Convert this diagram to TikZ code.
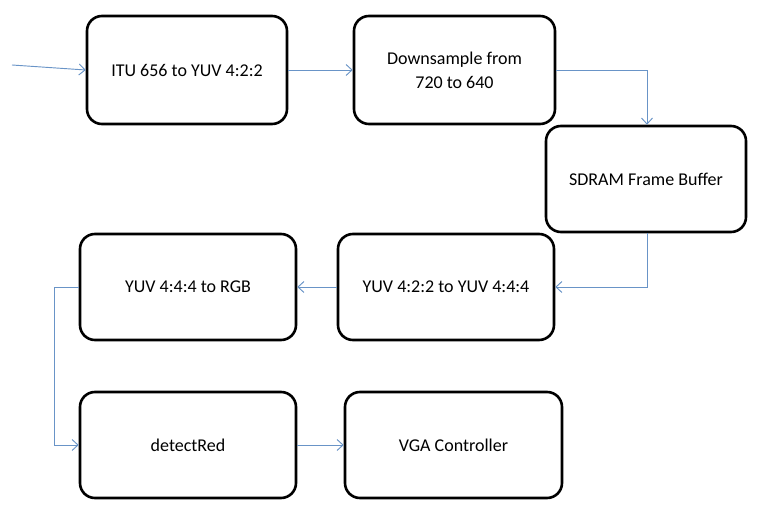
\documentclass[tikz,border=0pt]{standalone}
\usepackage{fontspec}
\setmainfont{Carlito}
\usetikzlibrary{arrows.meta}
\definecolor{conn}{RGB}{79,129,189}
\tikzset{
  blk/.style={draw=black, line width=1.95pt, rounded corners=11.25pt, align=center,
    font=\fontsize{13.5pt}{18pt}\selectfont, inner sep=0pt},
  conn/.style={draw=conn!85!white, line width=0.7pt,
    -{Straight Barb[length=4.5pt,width=8.25pt,line width=0.7pt]}},
}
\begin{document}
\begin{tikzpicture}[x=0.75pt,y=-0.75pt]
\useasboundingbox (0,0) rectangle (778,513);
\newcommand{\blkat}[6]{%
  \node[blk, minimum width=#4*0.75pt-#2*0.75pt, minimum height=#5*0.75pt-#3*0.75pt] (#1) at ({(#2+#4)/2},{(#3+#5)/2}) {#6};}
\blkat{itu}{87}{16}{287}{124}{ITU 656 to YUV 4:2:2}
\blkat{down}{354}{16}{555}{124}{Downsample from\\720 to 640}
\blkat{sdram}{546}{126}{746}{232}{SDRAM Frame Buffer}
\blkat{yuv}{338}{234}{554}{340}{YUV 4:2:2 to YUV 4:4:4}
\blkat{rgb}{80}{234}{296}{340}{YUV 4:4:4 to RGB}
\blkat{det}{80}{392}{296}{498}{detectRed}
\blkat{vga}{345}{392}{562}{498}{VGA Controller}
\coordinate (in) at (12,65);
\coordinate (c1) at (647,70);
\coordinate (c2) at (647,287);
\coordinate (c3) at (54,287);
\coordinate (c4) at (54,445);
\draw[conn] (in) -- (itu.west);
\draw[conn] (itu.east) -- (down.west);
\draw[conn] (down.east) -- (c1) -- (c1 |- sdram.north);
\draw[conn] (c1 |- sdram.south) -- (c2) -- (yuv.east);
\draw[conn] (yuv.west) -- (rgb.east);
\draw[conn] (rgb.west) -- (c3) -- (c4) -- (det.west);
\draw[conn] (det.east) -- (vga.west);
\end{tikzpicture}
\end{document}
